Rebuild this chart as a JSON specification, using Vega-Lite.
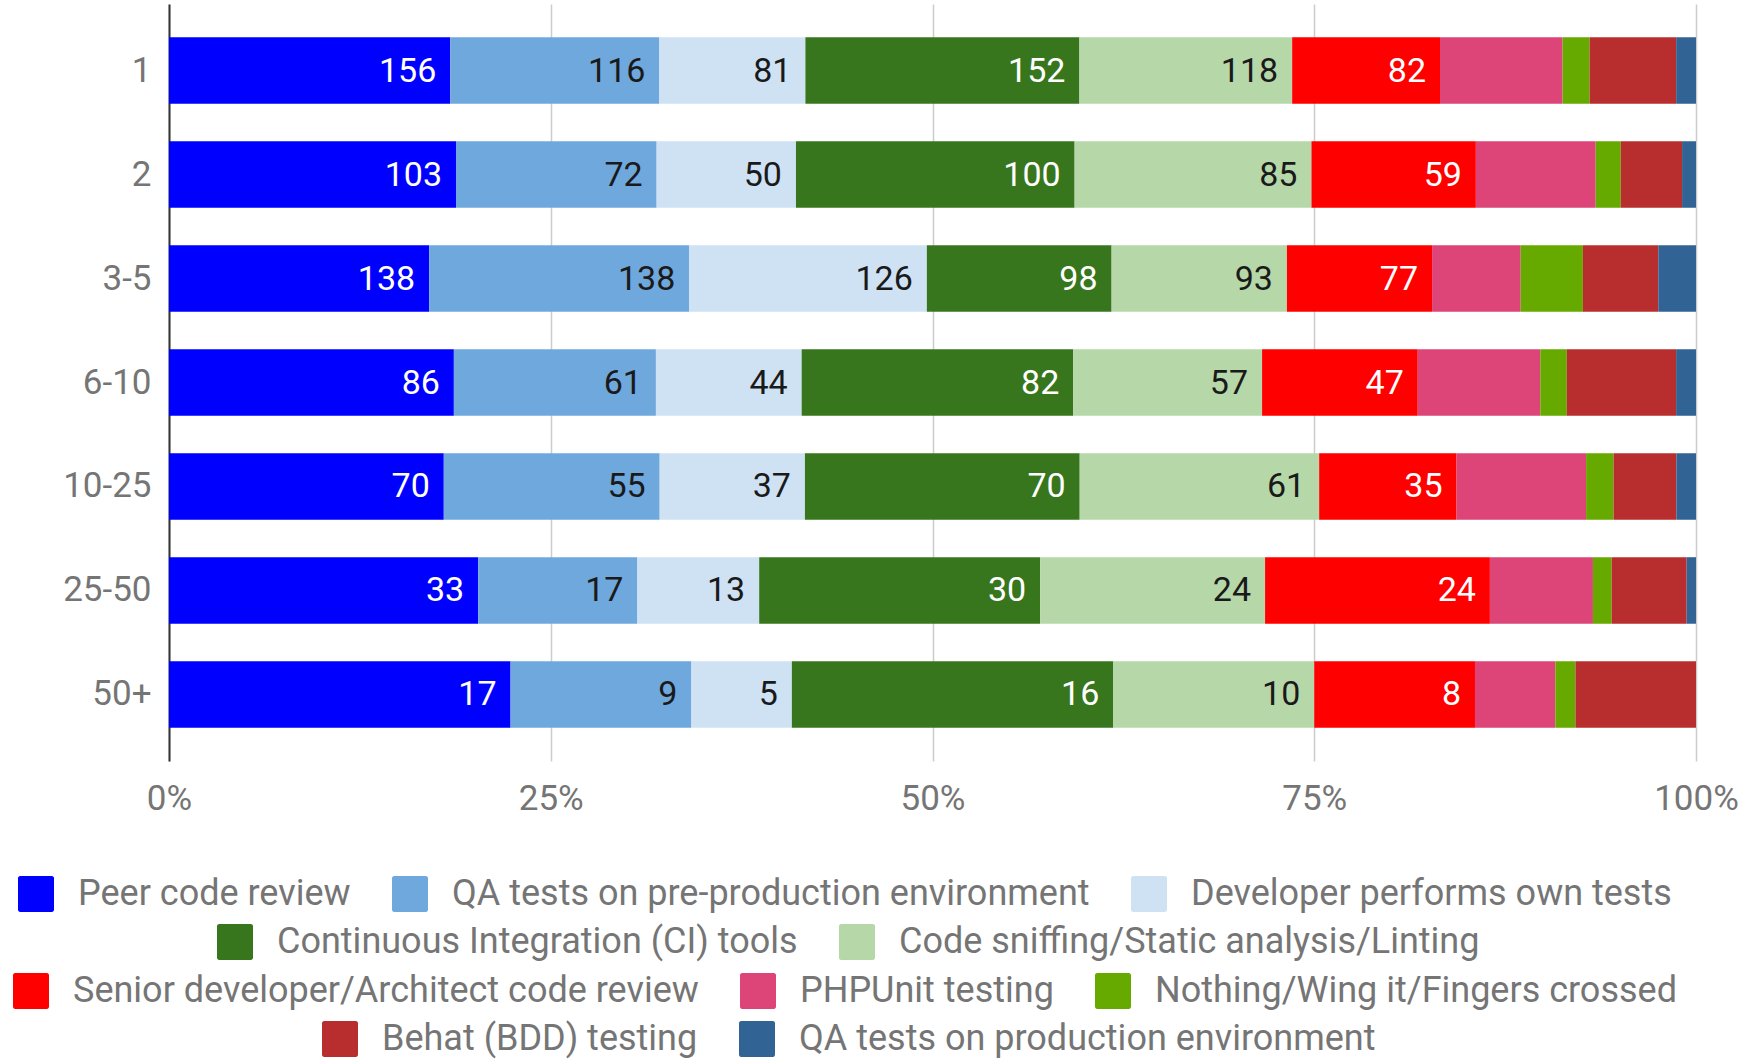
{
  "$schema": "https://vega.github.io/schema/vega-lite/v6.json",
  "autosize": "none",
  "width": 1527,
  "height": 757,
  "padding": {"left": 169, "top": 4, "right": 48, "bottom": 300},
  "background": "white",
  "data": {"values": [
    {"size": "1", "method": "Peer code review", "count": 156},
    {"size": "1", "method": "QA tests on pre-production environment", "count": 116},
    {"size": "1", "method": "Developer performs own tests", "count": 81},
    {"size": "1", "method": "Continuous Integration (CI) tools", "count": 152},
    {"size": "1", "method": "Code sniffing/Static analysis/Linting", "count": 118},
    {"size": "1", "method": "Senior developer/Architect code review", "count": 82},
    {"size": "1", "method": "PHPUnit testing", "count": 68},
    {"size": "1", "method": "Nothing/Wing it/Fingers crossed", "count": 15},
    {"size": "1", "method": "Behat (BDD) testing", "count": 48},
    {"size": "1", "method": "QA tests on production environment", "count": 11},
    {"size": "2", "method": "Peer code review", "count": 103},
    {"size": "2", "method": "QA tests on pre-production environment", "count": 72},
    {"size": "2", "method": "Developer performs own tests", "count": 50},
    {"size": "2", "method": "Continuous Integration (CI) tools", "count": 100},
    {"size": "2", "method": "Code sniffing/Static analysis/Linting", "count": 85},
    {"size": "2", "method": "Senior developer/Architect code review", "count": 59},
    {"size": "2", "method": "PHPUnit testing", "count": 43},
    {"size": "2", "method": "Nothing/Wing it/Fingers crossed", "count": 9},
    {"size": "2", "method": "Behat (BDD) testing", "count": 22},
    {"size": "2", "method": "QA tests on production environment", "count": 5},
    {"size": "3-5", "method": "Peer code review", "count": 138},
    {"size": "3-5", "method": "QA tests on pre-production environment", "count": 138},
    {"size": "3-5", "method": "Developer performs own tests", "count": 126},
    {"size": "3-5", "method": "Continuous Integration (CI) tools", "count": 98},
    {"size": "3-5", "method": "Code sniffing/Static analysis/Linting", "count": 93},
    {"size": "3-5", "method": "Senior developer/Architect code review", "count": 77},
    {"size": "3-5", "method": "PHPUnit testing", "count": 47},
    {"size": "3-5", "method": "Nothing/Wing it/Fingers crossed", "count": 33},
    {"size": "3-5", "method": "Behat (BDD) testing", "count": 40},
    {"size": "3-5", "method": "QA tests on production environment", "count": 20},
    {"size": "6-10", "method": "Peer code review", "count": 86},
    {"size": "6-10", "method": "QA tests on pre-production environment", "count": 61},
    {"size": "6-10", "method": "Developer performs own tests", "count": 44},
    {"size": "6-10", "method": "Continuous Integration (CI) tools", "count": 82},
    {"size": "6-10", "method": "Code sniffing/Static analysis/Linting", "count": 57},
    {"size": "6-10", "method": "Senior developer/Architect code review", "count": 47},
    {"size": "6-10", "method": "PHPUnit testing", "count": 37},
    {"size": "6-10", "method": "Nothing/Wing it/Fingers crossed", "count": 8},
    {"size": "6-10", "method": "Behat (BDD) testing", "count": 33},
    {"size": "6-10", "method": "QA tests on production environment", "count": 6},
    {"size": "10-25", "method": "Peer code review", "count": 70},
    {"size": "10-25", "method": "QA tests on pre-production environment", "count": 55},
    {"size": "10-25", "method": "Developer performs own tests", "count": 37},
    {"size": "10-25", "method": "Continuous Integration (CI) tools", "count": 70},
    {"size": "10-25", "method": "Code sniffing/Static analysis/Linting", "count": 61},
    {"size": "10-25", "method": "Senior developer/Architect code review", "count": 35},
    {"size": "10-25", "method": "PHPUnit testing", "count": 33},
    {"size": "10-25", "method": "Nothing/Wing it/Fingers crossed", "count": 7},
    {"size": "10-25", "method": "Behat (BDD) testing", "count": 16},
    {"size": "10-25", "method": "QA tests on production environment", "count": 5},
    {"size": "25-50", "method": "Peer code review", "count": 33},
    {"size": "25-50", "method": "QA tests on pre-production environment", "count": 17},
    {"size": "25-50", "method": "Developer performs own tests", "count": 13},
    {"size": "25-50", "method": "Continuous Integration (CI) tools", "count": 30},
    {"size": "25-50", "method": "Code sniffing/Static analysis/Linting", "count": 24},
    {"size": "25-50", "method": "Senior developer/Architect code review", "count": 24},
    {"size": "25-50", "method": "PHPUnit testing", "count": 11},
    {"size": "25-50", "method": "Nothing/Wing it/Fingers crossed", "count": 2},
    {"size": "25-50", "method": "Behat (BDD) testing", "count": 8},
    {"size": "25-50", "method": "QA tests on production environment", "count": 1},
    {"size": "50+", "method": "Peer code review", "count": 17},
    {"size": "50+", "method": "QA tests on pre-production environment", "count": 9},
    {"size": "50+", "method": "Developer performs own tests", "count": 5},
    {"size": "50+", "method": "Continuous Integration (CI) tools", "count": 16},
    {"size": "50+", "method": "Code sniffing/Static analysis/Linting", "count": 10},
    {"size": "50+", "method": "Senior developer/Architect code review", "count": 8},
    {"size": "50+", "method": "PHPUnit testing", "count": 4},
    {"size": "50+", "method": "Nothing/Wing it/Fingers crossed", "count": 1},
    {"size": "50+", "method": "Behat (BDD) testing", "count": 6},
    {"size": "50+", "method": "QA tests on production environment", "count": 0}
  ]},
  "transform": [
    {"stack": "count", "groupby": ["size"], "offset": "normalize", "as": ["x0", "x1"]}
  ],
  "encoding": {
    "y": {
      "field": "size", "type": "nominal", "title": null,
      "scale": {"domain": ["1", "2", "3-5", "6-10", "10-25", "25-50", "50+"], "paddingInner": 0.36, "paddingOuter": 0.32},
      "axis": {"domain": true, "domainColor": "#333333", "domainWidth": 2, "ticks": false, "labelPadding": 18, "grid": false}
    }
  },
  "layer": [
    {
      "transform": [{"filter": {"field": "method", "oneOf": ["Peer code review", "QA tests on pre-production environment", "Developer performs own tests"]}}],
      "mark": {"type": "bar"},
      "encoding": {
        "x": {"field": "x0", "type": "quantitative", "title": null,
          "scale": {"domain": [0, 1], "nice": false},
          "axis": {"values": [0, 0.25, 0.5, 0.75, 1], "format": ".0%", "domain": false, "ticks": false, "grid": true, "gridColor": "#cccccc", "gridWidth": 1.5, "labelPadding": 20, "labelFlush": false}},
        "x2": {"field": "x1"},
        "color": {"field": "method", "type": "nominal",
          "scale": {"domain": ["Peer code review", "QA tests on pre-production environment", "Developer performs own tests"], "range": ["#0000FF", "#6FA8DC", "#CFE2F3"]},
          "legend": {"title": null, "orient": "none", "legendX": -151, "legendY": 872}}
      }
    },
    {
      "transform": [{"filter": {"field": "method", "oneOf": ["Continuous Integration (CI) tools", "Code sniffing/Static analysis/Linting"]}}],
      "mark": {"type": "bar"},
      "encoding": {
        "x": {"field": "x0", "type": "quantitative"},
        "x2": {"field": "x1"},
        "color": {"field": "method", "type": "nominal",
          "scale": {"domain": ["Continuous Integration (CI) tools", "Code sniffing/Static analysis/Linting"], "range": ["#38761D", "#B6D7A8"]},
          "legend": {"title": null, "orient": "none", "legendX": 48, "legendY": 920}}
      }
    },
    {
      "transform": [{"filter": {"field": "method", "oneOf": ["Senior developer/Architect code review", "PHPUnit testing", "Nothing/Wing it/Fingers crossed"]}}],
      "mark": {"type": "bar"},
      "encoding": {
        "x": {"field": "x0", "type": "quantitative"},
        "x2": {"field": "x1"},
        "color": {"field": "method", "type": "nominal",
          "scale": {"domain": ["Senior developer/Architect code review", "PHPUnit testing", "Nothing/Wing it/Fingers crossed"], "range": ["#FF0000", "#DD4477", "#66AA00"]},
          "legend": {"title": null, "orient": "none", "legendX": -156, "legendY": 969}}
      }
    },
    {
      "transform": [{"filter": {"field": "method", "oneOf": ["Behat (BDD) testing", "QA tests on production environment"]}}],
      "mark": {"type": "bar"},
      "encoding": {
        "x": {"field": "x0", "type": "quantitative"},
        "x2": {"field": "x1"},
        "color": {"field": "method", "type": "nominal",
          "scale": {"domain": ["Behat (BDD) testing", "QA tests on production environment"], "range": ["#B82E2E", "#316395"]},
          "legend": {"title": null, "orient": "none", "legendX": 153, "legendY": 1017}}
      }
    },
    {
      "transform": [{"filter": {"field": "method", "oneOf": ["Peer code review", "QA tests on pre-production environment", "Developer performs own tests", "Continuous Integration (CI) tools", "Code sniffing/Static analysis/Linting", "Senior developer/Architect code review"]}}],
      "mark": {"type": "text", "align": "right", "baseline": "middle", "dx": -14, "dy": 1, "font": "Roboto", "fontSize": 34},
      "encoding": {
        "x": {"field": "x1", "type": "quantitative"},
        "text": {"field": "count", "type": "quantitative"},
        "color": {
          "condition": {"test": "indexof(['Peer code review','Continuous Integration (CI) tools','Senior developer/Architect code review'], datum.method) >= 0", "value": "#FFFFFF"},
          "value": "#1a1a1a"
        }
      }
    }
  ],
  "resolve": {"scale": {"color": "independent"}},
  "config": {
    "view": {"stroke": null},
    "font": "Roboto",
    "axis": {"labelFont": "Roboto", "labelFontSize": 35, "labelColor": "#757575"},
    "legend": {
      "direction": "horizontal",
      "labelFont": "Roboto",
      "labelFontSize": 36,
      "labelColor": "#757575",
      "labelLimit": 800,
      "symbolType": "M-0.88,-1H0.88A0.12,0.12,0,0,1,1,-0.88V0.88A0.12,0.12,0,0,1,0.88,1H-0.88A0.12,0.12,0,0,1,-1,0.88V-0.88A0.12,0.12,0,0,1,-0.88,-1Z",
      "symbolSize": 1296,
      "symbolStrokeWidth": 0,
      "labelOffset": 24,
      "columnPadding": 41,
      "padding": 0
    }
  }
}
